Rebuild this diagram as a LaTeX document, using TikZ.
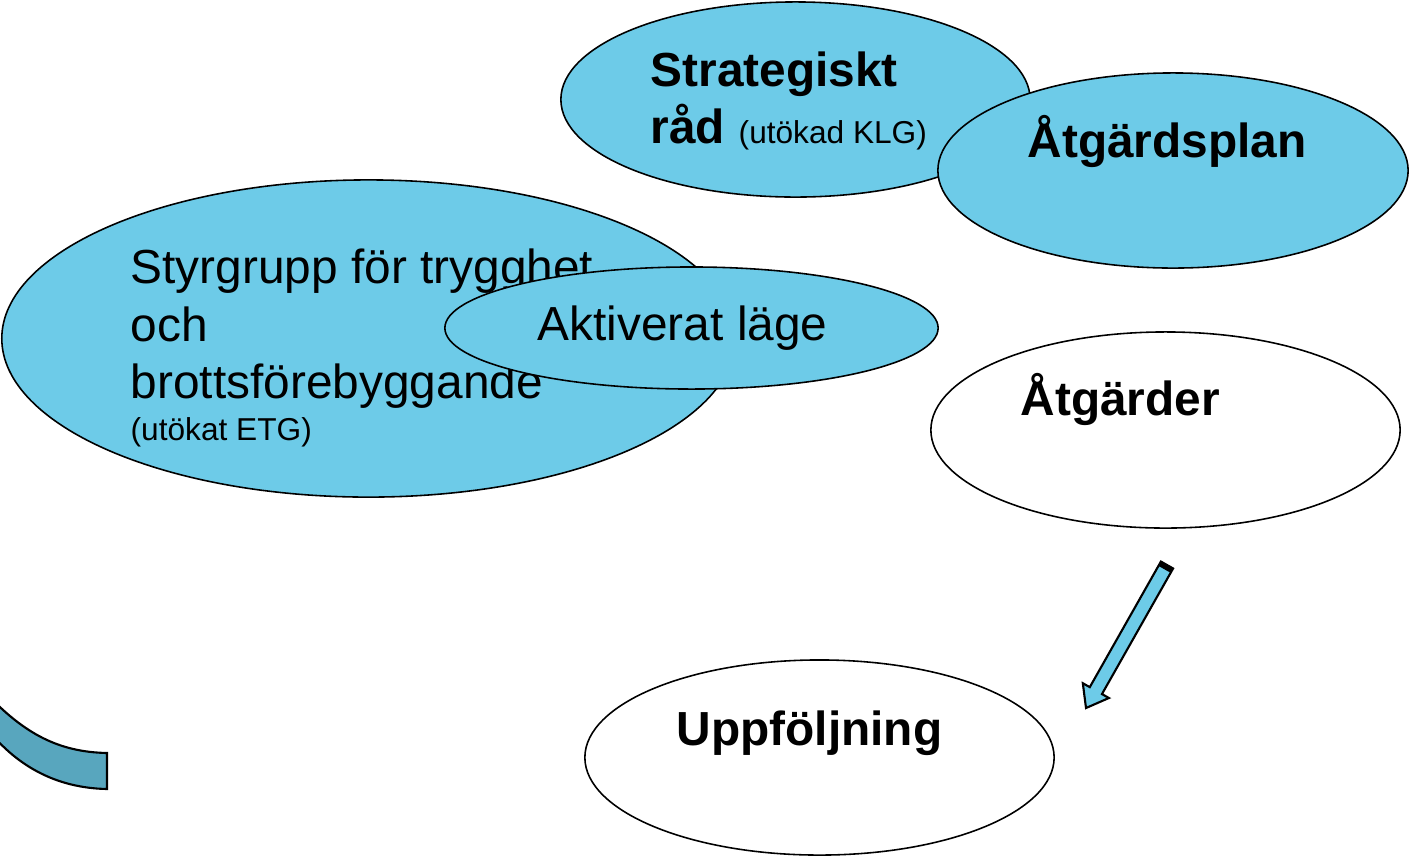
\documentclass[tikz,border=0pt]{standalone}
\usepackage{fontspec}
\setmainfont{Liberation Sans}
\usetikzlibrary{shapes.geometric,calc}
\definecolor{lblue}{RGB}{109,203,232}
\definecolor{dblue}{RGB}{88,166,190}
\begin{document}
\begin{tikzpicture}[x=0.01cm,y=-0.01cm,
  oval/.style={ellipse, draw=black, line width=0.45pt, inner sep=0pt},
  blueoval/.style={oval, fill=lblue},
  whiteoval/.style={oval, fill=white},
  bigtxt/.style={font=\fontsize{13.6}{16}\selectfont},
  bigbold/.style={font=\fontsize{13.6}{16}\selectfont\bfseries},
  smalltxt/.style={font=\fontsize{9}{11}\selectfont},
  txt/.style={anchor=base west, inner sep=0pt}]
\useasboundingbox (0,0) rectangle (1409,857);

% Strategiskt rad
\node[blueoval, minimum width=4.69cm, minimum height=1.95cm] (strat) at (795.5,99.5) {};
\node[txt, bigbold] (strat1) at (650,86) {Strategiskt};
\node[txt, bigbold] (strat2) at (650,143) {råd};
\node[txt, smalltxt] (strat3) at (738,143) {(utökad KLG)};

% Atgardsplan
\node[blueoval, minimum width=4.70cm, minimum height=1.95cm] (plan) at (1173,170.5) {};
\node[txt, bigbold] (plantxt) at (1027,157) {Åtgärdsplan};

% Styrgrupp
\node[blueoval, minimum width=7.33cm, minimum height=3.17cm] (styr) at (368.5,338.5) {};
\node[txt, bigtxt] (styr1) at (130,283) {Styrgrupp för trygghet};
\node[txt, bigtxt] (styr2) at (130,341) {och};
\node[txt, bigtxt] (styr3) at (130,398) {brottsförebyggande};
\node[txt, smalltxt] (styr4) at (130,440) {(utökat ETG)};

% Aktiverat lage
\node[blueoval, minimum width=4.93cm, minimum height=1.22cm] (akt) at (691.5,328) {};
\node[txt, bigtxt] (akttxt) at (537,340) {Aktiverat läge};

% Atgarder
\node[whiteoval, minimum width=4.69cm, minimum height=1.96cm] (atg) at (1165.5,430) {};
\node[txt, bigbold] (atgtxt) at (1020,415) {Åtgärder};

% Uppfoljning
\node[whiteoval, minimum width=4.69cm, minimum height=1.95cm] (upp) at (819.5,757.5) {};
\node[txt, bigbold] (upptxt) at (676,745) {Uppföljning};

% block arrow
\coordinate (aS) at (1167,565);
\coordinate (aT) at (1086,708);
\coordinate (aB) at ($(aT)!0.2cm!(aS)$);
\coordinate (aC) at ($(aS)!0.05cm!(aT)$);
\draw[fill=lblue, line width=0.6pt, line join=miter]
  ($(aS)!0.07cm!90:(aT)$) -- ($(aB)!0.07cm!90:(aT)$) -- ($(aB)!0.15cm!90:(aT)$)
  -- (aT) -- ($(aB)!0.15cm!-90:(aT)$) -- ($(aB)!0.07cm!-90:(aT)$)
  -- ($(aS)!0.07cm!-90:(aT)$) -- cycle;
\fill[black] ($(aS)!0.07cm!90:(aT)$) -- ($(aC)!0.07cm!90:(aT)$) -- ($(aC)!0.07cm!-90:(aT)$) -- ($(aS)!0.07cm!-90:(aT)$) -- cycle;

% curved arrow fragment
\draw[fill=dblue, line width=0.6pt]
  (-15,692) .. controls (25,735) and (60,752) .. (107,753) -- (107,789)
  .. controls (55,788) and (15,765) .. (-15,726) -- cycle;
\end{tikzpicture}
\end{document}
